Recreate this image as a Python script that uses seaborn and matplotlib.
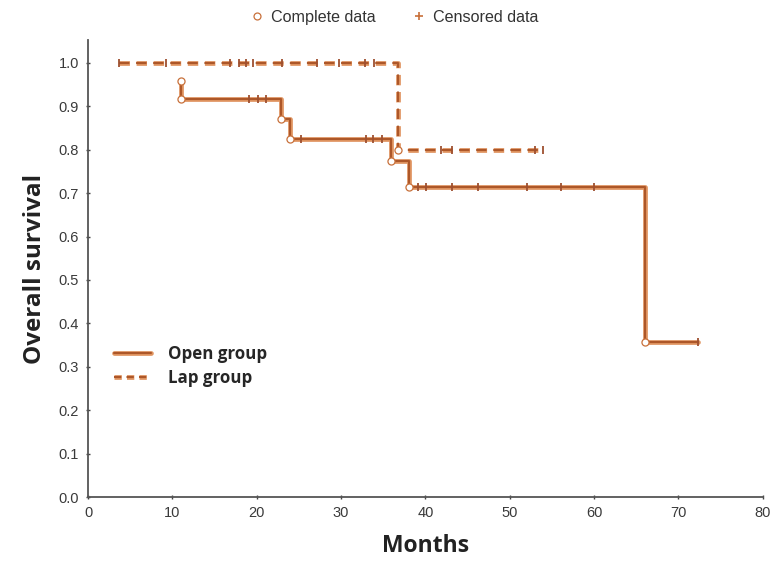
import matplotlib
matplotlib.use("Agg")
import matplotlib.pyplot as plt
import matplotlib.patheffects as pe
from matplotlib.lines import Line2D
import pandas as pd
import seaborn as sns

# ---- data ----
open_event_months = [11.0, 11.0, 22.9, 23.9, 35.9, 38.0, 66.0]
open_event_surv = [0.958, 0.917, 0.870, 0.825, 0.775, 0.715, 0.357]
open_cens_months = [19.1, 20.1, 21.1, 25.2, 33.0, 33.8, 34.8, 39.1, 40.1,
                    43.1, 46.2, 52.0, 56.1, 60.0, 72.3]
open_cens_surv = [0.917, 0.917, 0.917, 0.825, 0.825, 0.825, 0.825, 0.715, 0.715,
                  0.715, 0.715, 0.715, 0.715, 0.715, 0.357]

lap_event_months = [36.8]
lap_event_surv = [0.800]
lap_cens_months = [3.7, 9.3, 16.8, 17.9, 18.7, 19.6, 23.0, 27.1, 29.8, 32.9,
                   33.9, 41.9, 43.1, 53.0, 54.0]
lap_cens_surv = [1.0, 1.0, 1.0, 1.0, 1.0, 1.0, 1.0, 1.0, 1.0, 1.0,
                 1.0, 0.8, 0.8, 0.8, 0.8]

x_ticks = [0, 10, 20, 30, 40, 50, 60, 70, 80]
y_ticks = [0.0, 0.1, 0.2, 0.3, 0.4, 0.5, 0.6, 0.7, 0.8, 0.9, 1.0]
group_names = ["Open group", "Lap group"]


def curve(ev_t, ev_s, ce_t, ce_s):
    df = pd.DataFrame({"t": list(ev_t) + list(ce_t), "s": list(ev_s) + list(ce_s)})
    return df.sort_values(["t", "s"], ascending=[True, False]).reset_index(drop=True)


open_df = curve(open_event_months, open_event_surv, open_cens_months, open_cens_surv)
lap_df = curve(lap_event_months, lap_event_surv, lap_cens_months, lap_cens_surv)

sns.set_style("ticks")
plt.rcParams["font.family"] = ["Liberation Sans", "DejaVu Sans"]

LINE = "#AD5729"
EDGE = "#E09460"
MK = "#C8703A"
BOLD = ["Open Sans", "DejaVu Sans"]

fig = plt.figure(figsize=(7.72, 5.70), dpi=100)
ax = fig.add_axes([0.114, 0.128, 0.874, 0.802])

fx = [pe.Stroke(linewidth=3.4, foreground=EDGE), pe.Normal()]

sns.lineplot(data=open_df, x="t", y="s", sort=False, estimator=None, ax=ax,
             drawstyle="steps-post", color=LINE, linewidth=1.5, path_effects=fx)
sns.lineplot(data=lap_df, x="t", y="s", sort=False, estimator=None, ax=ax,
             drawstyle="steps-post", color=LINE, linewidth=1.5,
             linestyle=(0, (5, 3.2)), path_effects=fx)

# censored marks
sns.scatterplot(x=open_cens_months + lap_cens_months, y=open_cens_surv + lap_cens_surv,
                marker="|", s=26, color="#9E5030", linewidth=1.3, ax=ax, zorder=4)
# complete data marks
sns.scatterplot(x=open_event_months + lap_event_months, y=open_event_surv + lap_event_surv,
                marker="o", s=26, facecolor="white", edgecolor=MK, linewidth=0.9,
                ax=ax, zorder=5)

ax.set_xlim(0, 80)
ax.set_ylim(0, 1.053)
ax.set_xticks(x_ticks)
ax.set_yticks(y_ticks)
ax.set_xticklabels([str(v) for v in x_ticks])
ax.set_yticklabels([f"{v:.1f}" for v in y_ticks])
ax.tick_params(direction="inout", length=3, width=1, color="#444444",
               labelsize=10.5, labelcolor="#3a3a3a", pad=5)
sns.despine(ax=ax)
for sp in ("left", "bottom"):
    ax.spines[sp].set_color("#555555")
    ax.spines[sp].set_linewidth(1.3)

ax.set_xlabel("Months", fontsize=16.5, fontweight="bold", family=BOLD,
              color="#222222", labelpad=10)
ax.set_ylabel("Overall survival", fontsize=17.5, fontweight="bold",
              family=BOLD, color="#222222", labelpad=8)

# group legend
gh = [Line2D([], [], color=LINE, lw=1.5, path_effects=fx),
      Line2D([], [], color=LINE, lw=1.5, ls=(0, (3.5, 2.5)), path_effects=fx)]
ax.legend(gh, group_names, loc="upper left", bbox_to_anchor=(0.016, 0.366),
          frameon=False, handlelength=2.2, handletextpad=1.0, labelspacing=0.38,
          prop={"family": BOLD, "weight": "bold", "size": 12.2})

# marker legend at top
mh = [Line2D([], [], ls="none", marker="o", ms=5, mfc="white", mec=MK, mew=0.9),
      Line2D([], [], ls="none", marker="+", ms=6, mec=MK, mew=1.2)]
fig.legend(mh, ["Complete data", "Censored data"], loc="upper center",
           bbox_to_anchor=(0.51, 1.008), ncol=2, frameon=False, fontsize=11.6,
           handlelength=1.0, handletextpad=0.35, columnspacing=2.2,
           labelcolor="#333333")

fig.savefig("out.png", dpi=100)
